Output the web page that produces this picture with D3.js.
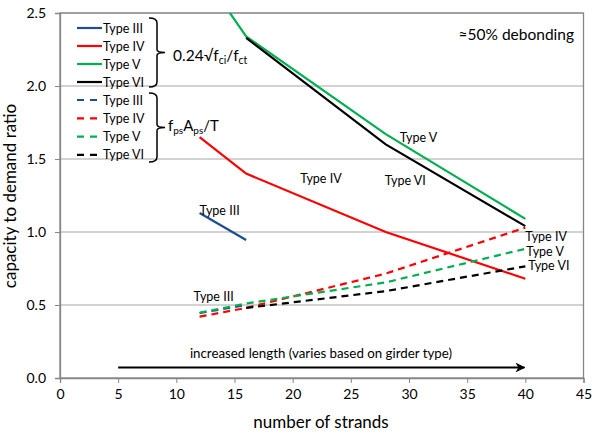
<!DOCTYPE html>
<html>
<head>
<meta charset="utf-8">
<script src="https://cdn.jsdelivr.net/npm/d3@7"></script>
<style>
  html, body { margin: 0; padding: 0; background: #fff; }
  svg { display: block; font-family: Lato, "Open Sans", sans-serif; }
</style>
</head>
<body>
<svg id="chart" width="592" height="436"></svg>
<script>
// Capacity-to-demand ratio vs number of strands, ~50% debonding
const strandsIII = [12, 16];
const strandsFull = [12, 16, 28, 40];
const strandsFrom16 = [16, 28, 40];

// 0.24√f'ci / f_ct (solid)
const stressIII = [1.13, 0.945];
const stressIV = [1.65, 1.40, 1.00, 0.68];
const stressV = [2.80, 2.34, 1.67, 1.09];
const stressVI = [2.33, 1.60, 1.04];

// f_ps A_ps / T (dashed)
const forceIII = [0.445, 0.50];
const forceIV = [0.42, 0.48, 0.715, 1.03];
const forceV = [0.447, 0.51, 0.655, 0.885];
const forceVI = [0.48, 0.595, 0.765];

const xTicks = [0, 5, 10, 15, 20, 25, 30, 35, 40, 45];
const yTicks = [0, 0.5, 1.0, 1.5, 2.0, 2.5];
const typeNames = ["Type III", "Type IV", "Type V", "Type VI"];
const typeColors = ["#1f4e8c", "#ff0000", "#00b050", "#000000"];

const svg = d3.select("#chart");
const x = d3.scaleLinear().domain([0, 45]).range([60, 583.5]);
const y = d3.scaleLinear().domain([0, 2.5]).range([378, 13]);

// clip to plot area
svg.append("defs").append("clipPath").attr("id", "plotClip")
  .append("rect").attr("x", 60).attr("y", 13).attr("width", 523.5).attr("height", 365);

// gridlines
svg.append("g").selectAll("line").data(yTicks.filter(d => d > 0)).join("line")
  .attr("x1", 60).attr("x2", 583.5)
  .attr("y1", d => y(d)).attr("y2", d => y(d))
  .attr("stroke", "#a6a6a6").attr("stroke-width", 1.2);

// plot border
svg.append("rect").attr("x", 60).attr("y", 13).attr("width", 523.5).attr("height", 365)
  .attr("fill", "none").attr("stroke", "#868686").attr("stroke-width", 1.3);

// axes
const xAxis = d3.axisBottom(x).tickValues(xTicks).tickSize(5).tickPadding(6).tickFormat(d3.format("d"));
const yAxis = d3.axisLeft(y).tickValues(yTicks).tickSize(5).tickPadding(9).tickFormat(d3.format(".1f"));
const gx = svg.append("g").attr("transform", "translate(0,378)").call(xAxis);
const gy = svg.append("g").attr("transform", "translate(60,0)").call(yAxis);
[gx, gy].forEach(g => {
  g.select(".domain").attr("stroke", "#868686").attr("stroke-width", 1.3);
  g.selectAll(".tick line").attr("stroke", "#868686");
  g.selectAll(".tick text").attr("font-size", 14).attr("fill", "#000")
    .attr("font-family", "Lato, sans-serif");
});

svg.append("text").attr("x", 321).attr("y", 428).attr("text-anchor", "middle")
  .attr("font-size", 17).text("number of strands");
svg.append("text").attr("transform", "translate(16,196) rotate(-90)")
  .attr("text-anchor", "middle").attr("font-size", 17).text("capacity to demand ratio");

// series lines
const line = d3.line().x(d => x(d[0])).y(d => y(d[1]));
const series = [
  { xs: strandsIII, ys: stressIII, c: 0, dash: false },
  { xs: strandsFull, ys: stressIV, c: 1, dash: false },
  { xs: strandsFull, ys: stressV, c: 2, dash: false },
  { xs: strandsFrom16, ys: stressVI, c: 3, dash: false },
  { xs: strandsIII, ys: forceIII, c: 0, dash: true },
  { xs: strandsFull, ys: forceIV, c: 1, dash: true },
  { xs: strandsFrom16, ys: forceVI, c: 3, dash: true },
  { xs: strandsFull, ys: forceV, c: 2, dash: true }
];
const gLines = svg.append("g").attr("clip-path", "url(#plotClip)");
series.forEach(s => {
  gLines.append("path")
    .datum(s.xs.map((v, i) => [v, s.ys[i]]))
    .attr("d", line).attr("fill", "none")
    .attr("stroke", typeColors[s.c]).attr("stroke-width", 2.2)
    .attr("stroke-dasharray", s.dash ? "7,5" : null);
});

// in-plot labels
const labels = [
  ["Type III", 12, 1.13, 0, 2, "start"],
  ["Type IV", 16, 1.40, 54, 9, "start"],
  ["Type V", 28, 1.67, 14, 8, "start"],
  ["Type VI", 28, 1.60, -1, 41, "start"],
  ["Type III", 12, 0.445, -6, -12, "start"],
  ["Type IV", 40, 1.03, 0, 13, "start"],
  ["Type V", 40, 0.885, 1, 7, "start"],
  ["Type VI", 40, 0.765, 3, 4, "start"]
];
svg.append("g").selectAll("text").data(labels).join("text")
  .attr("x", d => x(d[1]) + d[3]).attr("y", d => y(d[2]) + d[4])
  .attr("text-anchor", d => d[5]).attr("font-size", 12.5).text(d => d[0]);

// legend
const legend = svg.append("g");
const rows = [];
typeNames.forEach((n, i) => rows.push({ name: n, c: i, dash: false, yy: 28 + i * 18 }));
typeNames.forEach((n, i) => rows.push({ name: n, c: i, dash: true, yy: 100 + i * 18.3 }));
rows.forEach(r => {
  legend.append("line").attr("x1", 77).attr("x2", r.dash ? 97 : 102).attr("y1", r.yy).attr("y2", r.yy)
    .attr("stroke", typeColors[r.c]).attr("stroke-width", 2.2)
    .attr("stroke-dasharray", r.dash ? "7,6" : null);
  legend.append("text").attr("x", 103).attr("y", r.yy + 4.5).attr("font-size", 12.5).text(r.name);
});

// curly braces grouping the legend
function brace(top, bottom) {
  const mid = (top + bottom) / 2, xv = 157;
  return `M149,${top} Q157,${top} ${xv},${top + 5} L${xv},${mid - 3} Q${xv},${mid} 165,${mid} ` +
    `Q${xv},${mid} ${xv},${mid + 3} L${xv},${bottom - 5} Q157,${bottom} 149,${bottom}`;
}
legend.append("path").attr("d", brace(18, 87)).attr("fill", "none").attr("stroke", "#000").attr("stroke-width", 1.5);
legend.append("path").attr("d", brace(93, 162)).attr("fill", "none").attr("stroke", "#000").attr("stroke-width", 1.5);

const t1 = legend.append("text").attr("x", 173).attr("y", 61).attr("font-size", 15.5);
t1.append("tspan").text("0.24√f");
t1.append("tspan").attr("font-size", 10.5).attr("dy", 3).text("ci");
t1.append("tspan").attr("dy", -3).text("/f");
t1.append("tspan").attr("font-size", 10.5).attr("dy", 3).text("ct");

const t2 = legend.append("text").attr("x", 168).attr("y", 131).attr("font-size", 15);
t2.append("tspan").text("f");
t2.append("tspan").attr("font-size", 10).attr("dy", 3).text("ps");
t2.append("tspan").attr("dy", -3).text("A");
t2.append("tspan").attr("font-size", 10).attr("dy", 3).text("ps");
t2.append("tspan").attr("dy", -3).text("/T");

svg.append("text").attr("x", 574).attr("y", 40).attr("text-anchor", "end")
  .attr("font-size", 15.5).text("≈50% debonding");

// length arrow
svg.append("defs").append("marker").attr("id", "arrowHead")
  .attr("viewBox", "0 0 10 10").attr("refX", 9).attr("refY", 5)
  .attr("markerWidth", 4.5).attr("markerHeight", 4.5).attr("orient", "auto")
  .append("path").attr("d", "M0,0 L10,5 L0,10 L3,5 Z").attr("fill", "#000");
svg.append("line").attr("x1", x(5)).attr("x2", x(40) - 1).attr("y1", 367.5).attr("y2", 367.5)
  .attr("stroke", "#000").attr("stroke-width", 2.2).attr("marker-end", "url(#arrowHead)");
svg.append("text").attr("x", 321).attr("y", 358).attr("text-anchor", "middle")
  .attr("font-size", 13.3).text("increased length (varies based on girder type)");
</script>
</body>
</html>
